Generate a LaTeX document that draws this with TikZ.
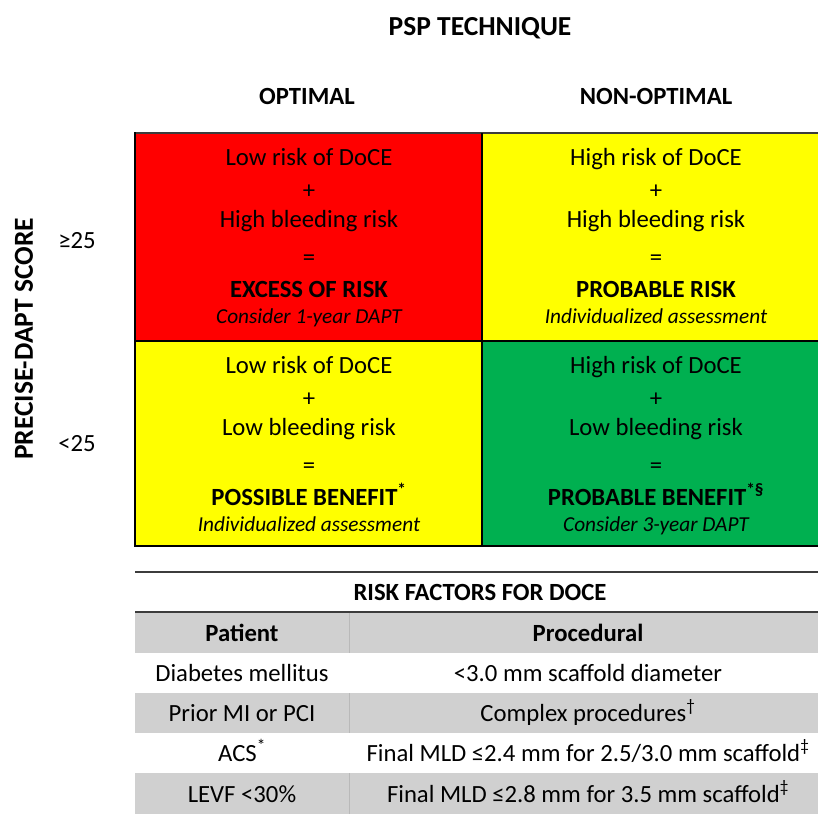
\documentclass[tikz,border=0pt]{standalone}
\usepackage{fontspec}
\setmainfont{Carlito}
\definecolor{riskred}{RGB}{255,0,0}
\definecolor{riskyellow}{RGB}{255,255,0}
\definecolor{riskgreen}{RGB}{0,176,80}
\definecolor{rowgray}{RGB}{208,208,208}
\definecolor{rulegray}{RGB}{60,60,60}
\definecolor{divgray}{RGB}{185,185,185}
\tikzset{
  txt/.style={inner sep=0pt, anchor=base, font=\fontsize{24.7}{29}\selectfont},
  boldtxt/.style={txt, font=\fontsize{24.7}{29}\selectfont\bfseries},
  ittxt/.style={txt, font=\fontsize{21.3}{25}\selectfont\itshape},
  titletxt/.style={inner sep=0pt, anchor=base, font=\fontsize{27.5}{32}\selectfont\bfseries},
  cellline/.style={black, line width=1.4pt},
}
% one quadrant of the matrix: name prefix, centre x, first baseline, four texts
\newcommand\quadtext[7]{%
  \node[txt]     (#1a) at (#2,#3)     {#4};
  \node[txt]     (#1b) at (#2,#3+33)  {+};
  \node[txt]     (#1c) at (#2,#3+62)  {#5};
  \node[txt]     (#1d) at (#2,#3+100) {=};
  \node[boldtxt] (#1e) at (#2,#3+132) {#6};
  \node[ittxt]   (#1f) at (#2,#3+158) {#7};
}
\begin{document}
\begin{tikzpicture}[x=1pt,y=-1pt]
\useasboundingbox (0,0) rectangle (818,814);

% headings
\node[titletxt] (title) at (480,35) {PSP TECHNIQUE};
\node[boldtxt] (hopt) at (307,104) {OPTIMAL};
\node[boldtxt] (hnon) at (656,104) {NON-OPTIMAL};
\node[titletxt, anchor=center, rotate=90] (score) at (24,339) {PRECISE-DAPT SCORE};
\node[txt] (hi) at (77,248) {≥25};
\node[txt] (lo) at (77,451) {<25};

% matrix cells
\fill[riskred]    (135,133) rectangle (482,341);
\fill[riskyellow] (482,133) rectangle (818,341);
\fill[riskyellow] (135,341) rectangle (482,546);
\fill[riskgreen]  (482,341) rectangle (818,546);
\draw[rulegray, line width=2pt] (135,133) -- (818,133);
\draw[cellline] (135,132) -- (135,546) -- (818,546);
\draw[cellline] (482,133) -- (482,546);
\draw[cellline] (135,341) -- (818,341);

\quadtext{q1}{309}{165}{Low risk of DoCE}{High bleeding risk}{EXCESS OF RISK}{Consider 1-year DAPT}
\quadtext{q2}{656}{165}{High risk of DoCE}{High bleeding risk}{PROBABLE RISK}{Individualized assessment}
\quadtext{q3}{309}{373}{Low risk of DoCE}{Low bleeding risk}{POSSIBLE BENEFIT\textsuperscript{*}}{Individualized assessment}
\quadtext{q4}{656}{373}{High risk of DoCE}{Low bleeding risk}{PROBABLE BENEFIT\textsuperscript{*§}}{Consider 3-year DAPT}

% risk factor table
\fill[rowgray] (135,612) rectangle (818,653);
\fill[rowgray] (135,693) rectangle (818,733);
\fill[rowgray] (135,773) rectangle (818,814);
\draw[divgray, line width=1pt] (349,612) -- (349,653);
\draw[divgray, line width=1pt] (349,693) -- (349,733);
\draw[divgray, line width=1pt] (349,773) -- (349,814);
\draw[rulegray, line width=2pt] (135,572) -- (818,572);
\draw[rulegray, line width=2pt] (135,612) -- (818,612);

\node[boldtxt] (thead) at (480,600) {RISK FACTORS FOR DOCE};
\node[boldtxt] (tpat) at (242,641) {Patient};
\node[boldtxt] (tproc) at (588,641) {Procedural};
\node[txt] (p1) at (242,681) {Diabetes mellitus};
\node[txt] (p2) at (242,721) {Prior MI or PCI};
\node[txt] (p3) at (242,761) {ACS\textsuperscript{*}};
\node[txt] (p4) at (242,802) {LEVF <30\%};
\node[txt] (r1) at (588,681) {<3.0 mm scaffold diameter};
\node[txt] (r2) at (588,721) {Complex procedures\textsuperscript{†}};
\node[txt] (r3) at (588,761) {Final MLD ≤2.4 mm for 2.5/3.0 mm scaffold\textsuperscript{‡}};
\node[txt] (r4) at (588,802) {Final MLD ≤2.8 mm for 3.5 mm scaffold\textsuperscript{‡}};
\end{tikzpicture}
\end{document}
